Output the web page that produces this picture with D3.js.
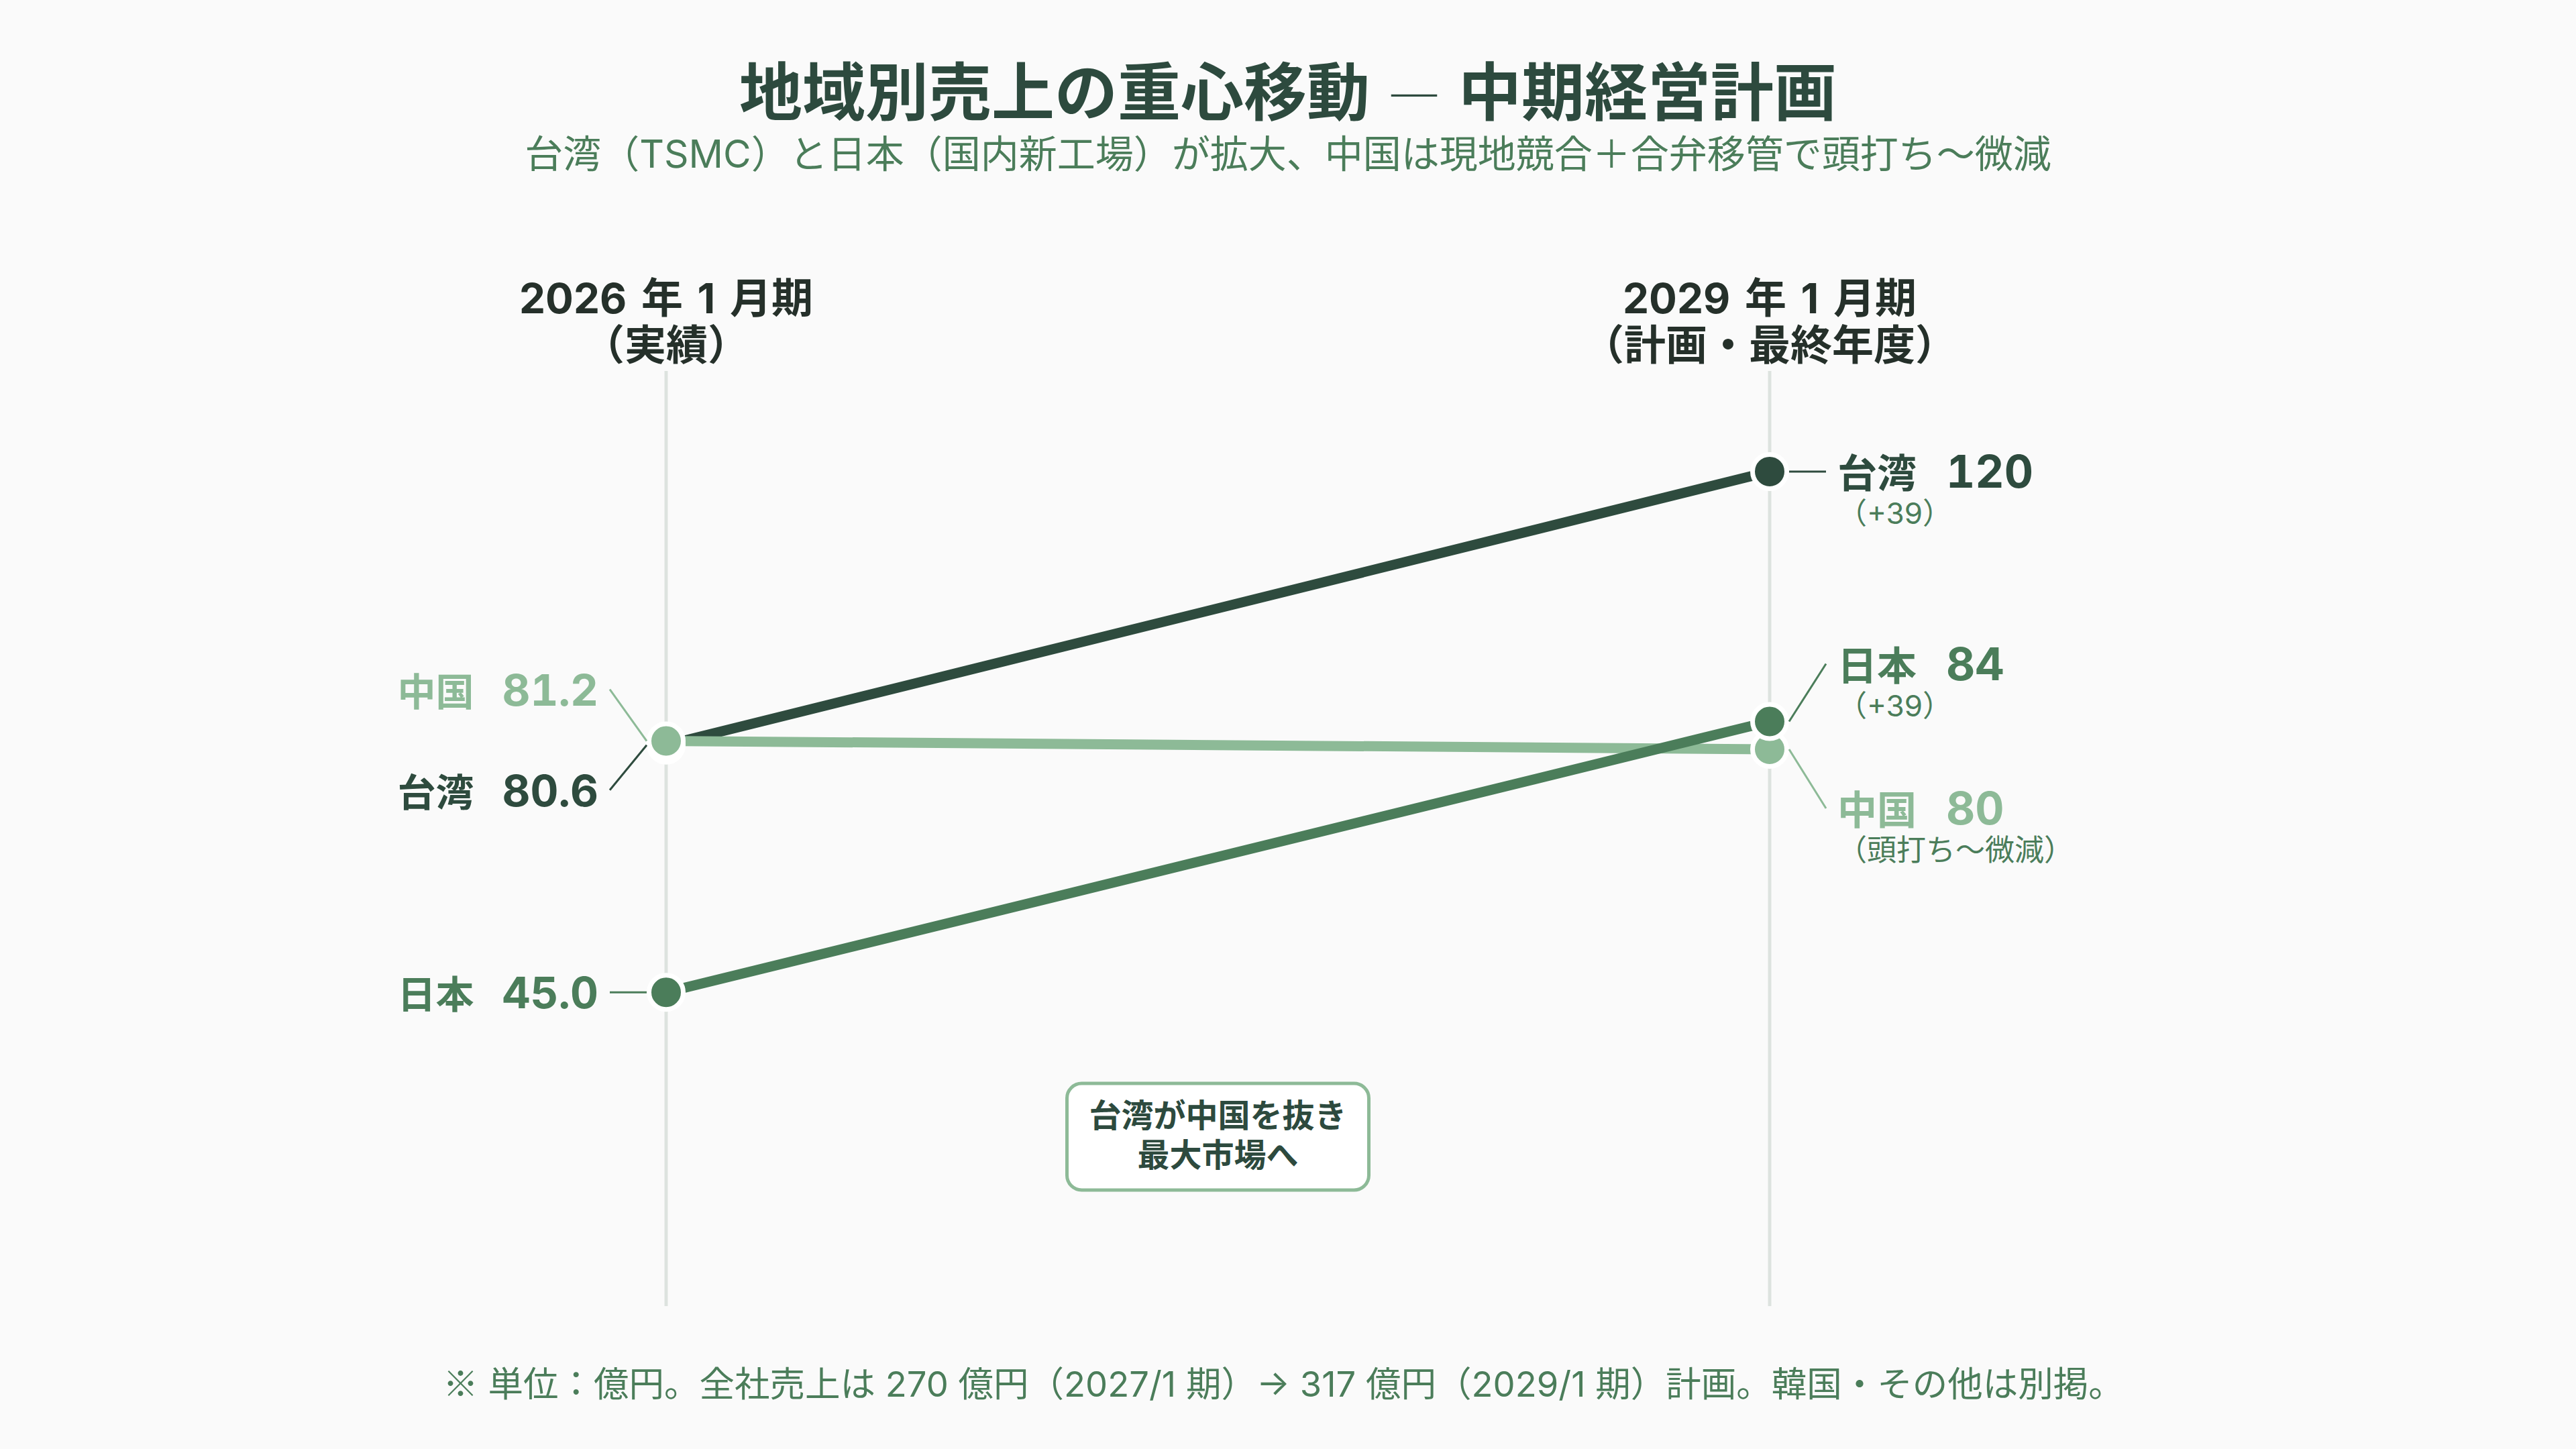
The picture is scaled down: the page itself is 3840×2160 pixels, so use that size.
<!DOCTYPE html>
<html lang="ja">
<head>
<meta charset="utf-8">
<script src="https://cdn.jsdelivr.net/npm/d3@7/dist/d3.min.js"></script>
<style>
  body { margin: 0; background: #fafafa; }
  svg { display: block; font-family: Inter, "Noto Sans CJK JP", sans-serif; }
  .num { font-variant-numeric: tabular-nums; }
</style>
</head>
<body>
<svg id="chart"></svg>
<script>
// data
const periods = ["2026 年 1 月期", "2029 年 1 月期"];
const periodNotes = ["（実績）", "（計画・最終年度）"];
const regions = ["台湾", "中国", "日本"];
const startValues = [80.6, 81.2, 45.0];
const endValues = [120, 80, 84];
const startLabels = ["80.6", "81.2", "45.0"];
const endLabels = ["120", "80", "84"];
const endNotes = ["（+39）", "（頭打ち〜微減）", "（+39）"];

const width = 3840;
const height = 2160;
const colors = ["#2e4b3e", "#8dba97", "#4b7d5a"];
const noteColor = "#4b7d5a";
const cjk = "'Noto Sans CJK JP', sans-serif";

// label offsets from the point (layout only)
const leftShift = [67, -77, 0];
const rightShift = [0, 88, -86];

let svg = d3.select("#chart").attr("width", width).attr("height", height);
svg.append("rect").attr("width", width).attr("height", height).attr("fill", "#fafafa");

let scX = d3.scalePoint().domain(periods).range([993, 2638]);
let scY = d3.scaleLinear().domain([0, 134]).range([1945, 558]);

// title
let title = svg.append("text")
    .attr("x", 1920).attr("y", 172)
    .attr("text-anchor", "middle")
    .attr("font-size", 94).attr("font-weight", 700)
    .attr("fill", "#2d4a3e");
title.append("tspan").text("地域別売上の重心移動");
title.append("tspan").attr("dx", 26).attr("font-weight", 400).attr("font-size", 80)
    .style("font-family", cjk).text("—");
title.append("tspan").attr("dx", 26).text("中期経営計画");

svg.append("text")
    .attr("x", 1920).attr("y", 250)
    .attr("text-anchor", "middle")
    .attr("font-size", 57)
    .attr("fill", "#4b7d5a")
    .text("台湾（TSMC）と日本（国内新工場）が拡大、中国は現地競合＋合弁移管で頭打ち〜微減");

// vertical axes + headers
periods.forEach((p, i) => {
    svg.append("line")
        .attr("x1", scX(p)).attr("x2", scX(p))
        .attr("y1", 553).attr("y2", 1947)
        .attr("stroke", "#dde3df").attr("stroke-width", 5);

    let t = svg.append("text")
        .attr("text-anchor", "middle")
        .attr("font-size", 62).attr("font-weight", 700)
        .attr("fill", "#25302a")
        .style("word-spacing", "7px");
    t.append("tspan").attr("x", scX(p)).attr("y", 467).text(p);
    t.append("tspan").attr("x", scX(p)).attr("y", 537).text(periodNotes[i]);
});

// slope lines
regions.forEach((r, i) => {
    svg.append("line")
        .attr("x1", scX(periods[0])).attr("y1", scY(startValues[i]))
        .attr("x2", scX(periods[1])).attr("y2", scY(endValues[i]))
        .attr("stroke", colors[i]).attr("stroke-width", 15)
        .attr("stroke-linecap", "round");
});

// dots
regions.forEach((r, i) => {
    [startValues[i], endValues[i]].forEach((v, j) => {
        svg.append("circle")
            .attr("cx", scX(periods[j])).attr("cy", scY(v))
            .attr("r", 25.5)
            .attr("fill", colors[i])
            .attr("stroke", "#ffffff").attr("stroke-width", 7);
    });
});

// left labels
regions.forEach((r, i) => {
    let px = scX(periods[0]);
    let py = scY(startValues[i]);
    let ly = py + leftShift[i];
    svg.append("line")
        .attr("x1", px - 29).attr("y1", py)
        .attr("x2", px - 84).attr("y2", ly)
        .attr("stroke", colors[i]).attr("stroke-width", 3);
    let t = svg.append("text")
        .attr("x", px - 101).attr("y", ly + 24)
        .attr("text-anchor", "end")
        .attr("font-weight", 700)
        .attr("fill", colors[i]);
    t.append("tspan").attr("font-size", 57).text(r);
    t.append("tspan").attr("class", "num").attr("font-size", 65).attr("dx", 42).text(startLabels[i]);
});

// right labels
regions.forEach((r, i) => {
    let px = scX(periods[1]);
    let py = scY(endValues[i]);
    let ly = py + rightShift[i];
    svg.append("line")
        .attr("x1", px + 29).attr("y1", py)
        .attr("x2", px + 84).attr("y2", ly)
        .attr("stroke", colors[i]).attr("stroke-width", 3);
    let t = svg.append("text")
        .attr("x", px + 101).attr("y", ly + 24)
        .attr("font-weight", 700)
        .attr("fill", colors[i]);
    t.append("tspan").attr("font-size", 59).text(r);
    t.append("tspan").attr("class", "num").attr("font-size", 67).attr("dx", 44).text(endLabels[i]);
    svg.append("text")
        .attr("x", px + 101).attr("y", ly + 78)
        .attr("font-size", 44)
        .attr("fill", noteColor)
        .text(endNotes[i]);
});

// callout box
let midX = (scX(periods[0]) + scX(periods[1])) / 2;
svg.append("rect")
    .attr("x", midX - 225).attr("y", 1615)
    .attr("width", 450).attr("height", 159)
    .attr("rx", 22)
    .attr("fill", "#ffffff")
    .attr("stroke", "#8dba97").attr("stroke-width", 5);
let box = svg.append("text")
    .attr("text-anchor", "middle")
    .attr("font-size", 48).attr("font-weight", 700)
    .attr("fill", "#2d4a3e");
box.append("tspan").attr("x", midX).attr("y", 1680).text("台湾が中国を抜き");
box.append("tspan").attr("x", midX).attr("y", 1739).text("最大市場へ");

// footnote
let foot = svg.append("text")
    .attr("x", 1913).attr("y", 2082)
    .attr("text-anchor", "middle")
    .attr("font-size", 52.5)
    .attr("fill", "#4b7d5a");
foot.append("tspan").style("font-family", cjk).text("※");
foot.append("tspan").text(" 単位：億円。全社売上は 270 億円（2027/1 期）→ 317 億円（2029/1 期）計画。韓国・その他は別掲。");
</script>
</body>
</html>
